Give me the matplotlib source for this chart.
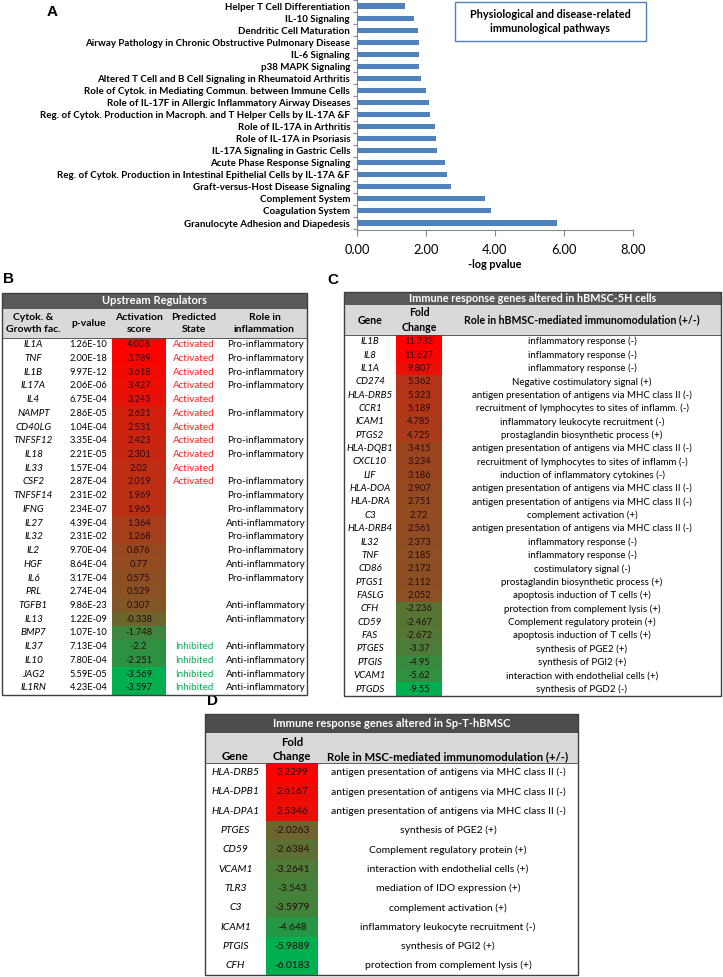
import matplotlib
matplotlib.use('Agg')
import matplotlib.pyplot as plt
from matplotlib.patches import Rectangle
from matplotlib.colors import LinearSegmentedColormap, Normalize
from matplotlib.ticker import FormatStrFormatter, FixedLocator

plt.rcParams['font.family'] = ['Lato', 'DejaVu Sans']

# ---------------- Panel A data (top to bottom) ----------------
pathways = [
    "Helper T Cell Differentiation",
    "IL-10 Signaling",
    "Dendritic Cell Maturation",
    "Airway Pathology in Chronic Obstructive Pulmonary Disease",
    "IL-6 Signaling",
    "p38 MAPK Signaling",
    "Altered T Cell and B Cell Signaling in Rheumatoid Arthritis",
    "Role of Cytok. in Mediating Commun. between Immune Cells",
    "Role of IL-17F in Allergic Inflammatory Airway Diseases",
    "Reg. of Cytok. Production in Macroph. and T Helper Cells by IL-17A &F",
    "Role of IL-17A in Arthritis",
    "Role of IL-17A in Psoriasis",
    "IL-17A Signaling in Gastric Cells",
    "Acute Phase Response Signaling",
    "Reg. of Cytok. Production in Intestinal Epithelial Cells by IL-17A &F",
    "Graft-versus-Host Disease Signaling",
    "Complement System",
    "Coagulation System",
    "Granulocyte Adhesion and Diapedesis",
]
neglogp = [1.40, 1.65, 1.77, 1.80, 1.81, 1.81, 1.86, 2.01, 2.09, 2.11,
           2.25, 2.29, 2.32, 2.56, 2.60, 2.72, 3.72, 3.87, 5.79]
xticks_a = [0, 2, 4, 6, 8]

# ---------------- Panel B data ----------------
b_genes = ["IL1A", "TNF", "IL1B", "IL17A", "IL4", "NAMPT", "CD40LG", "TNFSF12",
           "IL18", "IL33", "CSF2", "TNFSF14", "IFNG", "IL27", "IL32", "IL2",
           "HGF", "IL6", "PRL", "TGFB1", "IL13", "BMP7", "IL37", "IL10", "JAG2", "IL1RN"]
b_pvalues = ["1.26E-10", "2.00E-18", "9.97E-12", "2.06E-06", "6.75E-04", "2.86E-05",
             "1.04E-04", "3.35E-04", "2.21E-05", "1.57E-04", "2.87E-04", "2.31E-02",
             "2.34E-07", "4.39E-04", "2.31E-02", "9.70E-04", "8.64E-04", "3.17E-04",
             "2.74E-04", "9.86E-23", "1.22E-09", "1.07E-10", "7.13E-04", "7.80E-04",
             "5.59E-05", "4.23E-04"]
b_scores = [4.008, 3.789, 3.618, 3.427, 3.243, 2.621, 2.531, 2.423, 2.301, 2.02,
            2.019, 1.969, 1.965, 1.364, 1.268, 0.876, 0.77, 0.575, 0.529, 0.307,
            -0.338, -1.748, -2.2, -2.251, -3.569, -3.597]
b_score_labels = ["4.008", "3.789", "3.618", "3.427", "3.243", "2.621", "2.531", "2.423",
                  "2.301", "2.02", "2.019", "1.969", "1.965", "1.364", "1.268", "0.876",
                  "0.77", "0.575", "0.529", "0.307", "-0.338", "-1.748", "-2.2", "-2.251",
                  "-3.569", "-3.597"]
b_states = ["Activated"] * 11 + [""] * 11 + ["Inhibited"] * 4
b_roles = ["Pro-inflammatory", "Pro-inflammatory", "Pro-inflammatory", "Pro-inflammatory", "",
           "Pro-inflammatory", "", "Pro-inflammatory", "Pro-inflammatory", "",
           "Pro-inflammatory", "Pro-inflammatory", "Pro-inflammatory", "Anti-inflammatory",
           "Pro-inflammatory", "Pro-inflammatory", "Anti-inflammatory", "Pro-inflammatory", "",
           "Anti-inflammatory", "Anti-inflammatory", "", "Anti-inflammatory",
           "Anti-inflammatory", "Anti-inflammatory", "Anti-inflammatory"]
b_headers = ["Cytok. &\nGrowth fac.", "p-value", "Activation\nscore", "Predicted\nState", "Role in\ninflammation"]

# ---------------- Panel C data ----------------
c_genes = ["IL1B", "IL8", "IL1A", "CD274", "HLA-DRB5", "CCR1", "ICAM1", "PTGS2", "HLA-DQB1",
           "CXCL10", "LIF", "HLA-DOA", "HLA-DRA", "C3", "HLA-DRB4", "IL32", "TNF", "CD86",
           "PTGS1", "FASLG", "CFH", "CD59", "FAS", "PTGES", "PTGIS", "VCAM1", "PTGDS"]
c_fold = [11.733, 11.627, 9.807, 5.362, 5.323, 5.189, 4.785, 4.725, 3.415, 3.234, 3.186,
          2.907, 2.751, 2.72, 2.561, 2.373, 2.185, 2.172, 2.112, 2.052, -2.236, -2.467,
          -2.672, -3.37, -4.95, -5.62, -9.55]
c_fold_labels = ["11.733", "11.627", "9.807", "5.362", "5.323", "5.189", "4.785", "4.725",
                 "3.415", "3.234", "3.186", "2.907", "2.751", "2.72", "2.561", "2.373",
                 "2.185", "2.172", "2.112", "2.052", "-2.236", "-2.467", "-2.672", "-3.37",
                 "-4.95", "-5.62", "-9.55"]
c_roles = ["inflammatory response (-)", "inflammatory response (-)", "inflammatory response (-)",
           "Negative costimulatory signal (+)",
           "antigen presentation of antigens via MHC class II (-)",
           "recruitment of lymphocytes to sites of inflamm. (-)",
           "inflammatory leukocyte recruitment (-)",
           "prostaglandin biosynthetic process (+)",
           "antigen presentation of antigens via MHC class II (-)",
           "recruitment of lymphocytes to sites of inflamm (-)",
           "induction of inflammatory cytokines (-)",
           "antigen presentation of antigens via MHC class II (-)",
           "antigen presentation of antigens via MHC class II (-)",
           "complement activation (+)",
           "antigen presentation of antigens via MHC class II (-)",
           "inflammatory response (-)", "inflammatory response (-)",
           "costimulatory signal (-)", "prostaglandin biosynthetic process (+)",
           "apoptosis induction of T cells (+)", "protection from complement lysis (+)",
           "Complement regulatory protein (+)", "apoptosis induction of T cells (+)",
           "synthesis of PGE2 (+)", "synthesis of PGI2 (+)",
           "interaction with endothelial cells (+)", "synthesis of PGD2 (-)"]

# ---------------- Panel D data ----------------
d_genes = ["HLA-DRB5", "HLA-DPB1", "HLA-DPA1", "PTGES", "CD59", "VCAM1", "TLR3", "C3",
           "ICAM1", "PTGIS", "CFH"]
d_fold = [3.2299, 2.6167, 2.5346, -2.0263, -2.6384, -3.2641, -3.543, -3.5979, -4.648,
          -5.9889, -6.0183]
d_fold_labels = ["3.2299", "2.6167", "2.5346", "-2.0263", "-2.6384", "-3.2641", "-3.543",
                 "-3.5979", "-4.648", "-5.9889", "-6.0183"]
d_roles = ["antigen presentation of antigens via MHC class II (-)",
           "antigen presentation of antigens via MHC class II (-)",
           "antigen presentation of antigens via MHC class II (-)",
           "synthesis of PGE2 (+)", "Complement regulatory protein (+)",
           "interaction with endothelial cells (+)", "mediation of IDO expression (+)",
           "complement activation (+)", "inflammatory leukocyte recruitment (-)",
           "synthesis of PGI2 (+)", "protection from complement lysis (+)"]

# ---------------- Figure ----------------
W, H = 723, 977
fig = plt.figure(figsize=(W / 100, H / 100), dpi=100)
fig.patch.set_facecolor('white')

# Panel A bar chart
ax_left, ax_right, ax_top, ax_bot = 357, 633, 0, 230
ax = fig.add_axes([ax_left / W, 1 - ax_bot / H, (ax_right - ax_left) / W, (ax_bot - ax_top) / H])
n = len(pathways)
ypos = [n - 1 - i for i in range(n)]
ax.barh(ypos, neglogp, height=0.42, color='#4f81bd', zorder=3)
ax.set_xlim(0, 8)
ax.set_ylim(-0.58, n - 0.5)
ax.set_yticks(ypos)
ax.set_yticklabels(pathways, fontsize=7.0, fontweight='bold')
ax.tick_params(axis='y', length=0, pad=5)
ax.yaxis.set_minor_locator(FixedLocator([k - 0.5 for k in range(n + 1)]))
ax.tick_params(axis='y', which='minor', length=3, color='#868686', width=0.8)
ax.set_xticks(xticks_a)
ax.xaxis.set_major_formatter(FormatStrFormatter('%.2f'))
ax.tick_params(axis='x', length=4, color='#868686', width=0.8, labelsize=9.3, pad=6)
ax.set_xlabel('-log pvalue', fontsize=7.8, fontweight='bold', labelpad=2)
for s in ['top', 'right']:
    ax.spines[s].set_visible(False)
for s in ['left', 'bottom']:
    ax.spines[s].set_color('#868686')
    ax.spines[s].set_linewidth(0.8)
ax.set_facecolor('none')

# Overlay in pixel coordinates
ov = fig.add_axes([0, 0, 1, 1])
ov.set_xlim(0, W)
ov.set_ylim(H, 0)
ov.axis('off')

def rect(x0, y0, x1, y1, fc, ec='none', lw=0, z=1):
    ov.add_patch(Rectangle((x0, y0), x1 - x0, y1 - y0, facecolor=fc, edgecolor=ec,
                           linewidth=lw, zorder=z))

def txt(x, y, s, size, **kw):
    kw.setdefault('ha', 'center')
    kw.setdefault('va', 'center')
    ov.text(x, y, s, fontsize=size, **kw)

cmap = LinearSegmentedColormap.from_list('gr', ['#00b050', '#ff0000'])
DARK = '#595959'
LIGHT = '#d9d9d9'
EDGE = '#404040'
TXT_FILL = '#2a0a0a'
LBL = ['Liberation Sans', 'DejaVu Sans']

# Legend box of panel A
rect(455, 2, 646, 41, 'white', ec='#4f81bd', lw=1.0, z=2)
txt(550.5, 21.5, "Physiological and disease-related\nimmunological pathways", 7.8,
    fontweight='bold', linespacing=1.25, zorder=3)
txt(52, 12, "A", 11, fontweight='bold', family=LBL)

# Panel labels
txt(8, 279, "B", 11, fontweight='bold', family=LBL)
txt(333, 280, "C", 11, fontweight='bold', family=LBL)
txt(212, 701, "D", 11, fontweight='bold', family=LBL)

# ---------------- Table B ----------------
bx = [2, 65, 112, 166, 222, 307]
b_top, b_title_bot, b_head_bot = 293, 309, 337.8
b_rh = 13.73
b_bot = b_head_bot + len(b_genes) * b_rh
BFS = 7.1
rect(bx[0], b_top, bx[-1], b_title_bot, DARK)
rect(bx[0], b_title_bot, bx[-1], b_head_bot, LIGHT)
txt((bx[0] + bx[-1]) / 2, (b_top + b_title_bot) / 2, "Upstream Regulators", 8.0,
    fontweight='bold', color='white')
for j, h in enumerate(b_headers):
    cx = (bx[j] + bx[j + 1]) / 2
    txt(cx, (b_title_bot + b_head_bot) / 2 + 0.5, h, 7.5, fontweight='bold', linespacing=1.4)
normB = Normalize(vmin=min(b_scores), vmax=max(b_scores))
for i in range(len(b_genes)):
    y0 = b_head_bot + i * b_rh
    yc = y0 + b_rh / 2
    rect(bx[2], y0, bx[3], y0 + b_rh, cmap(normB(b_scores[i])))
    txt((bx[0] + bx[1]) / 2, yc, b_genes[i], BFS, style='italic')
    txt((bx[1] + bx[2]) / 2, yc, b_pvalues[i], 6.7)
    txt((bx[2] + bx[3]) / 2, yc, b_score_labels[i], 6.7, color=TXT_FILL)
    if b_states[i]:
        col = '#ff2020' if b_states[i] == 'Activated' else '#00b050'
        txt((bx[3] + bx[4]) / 2, yc, b_states[i], BFS, color=col)
    if b_roles[i]:
        txt((bx[4] + bx[5]) / 2 + 1, yc, b_roles[i], BFS)
ov.plot([bx[0], bx[-1]], [b_head_bot, b_head_bot], color=EDGE, lw=0.6)
rect(bx[0], b_top, bx[-1], b_bot, 'none', ec=EDGE, lw=1.0, z=4)

# ---------------- Table C ----------------
cx_ = [344, 396, 442, 721]
c_top, c_title_bot, c_head_bot = 292, 305, 335
c_rh = 13.36
c_bot = c_head_bot + len(c_genes) * c_rh
CFS = 7.0
rcx = 582
rect(cx_[0], c_top, cx_[-1], c_title_bot, DARK)
rect(cx_[0], c_title_bot, cx_[-1], c_head_bot, LIGHT)
txt((cx_[0] + cx_[-1]) / 2, (c_top + c_title_bot) / 2,
    "Immune response genes altered in hBMSC-5H cells", 7.8, fontweight='bold', color='white')
hc = (c_title_bot + c_head_bot) / 2
txt((cx_[0] + cx_[1]) / 2, hc, "Gene", 7.6, fontweight='bold')
txt((cx_[1] + cx_[2]) / 2, hc, "Fold\nChange", 7.6, fontweight='bold', linespacing=1.35)
txt(rcx, hc, "Role in hBMSC-mediated immunomodulation (+/-)", 7.6, fontweight='bold')
normC = Normalize(vmin=min(c_fold), vmax=max(c_fold))
for i in range(len(c_genes)):
    y0 = c_head_bot + i * c_rh
    yc = y0 + c_rh / 2
    rect(cx_[1], y0, cx_[2], y0 + c_rh, cmap(normC(c_fold[i])))
    txt((cx_[0] + cx_[1]) / 2, yc, c_genes[i], CFS, style='italic')
    txt((cx_[1] + cx_[2]) / 2, yc, c_fold_labels[i], 6.7, color=TXT_FILL)
    txt(rcx, yc, c_roles[i], CFS)
ov.plot([cx_[0], cx_[-1]], [c_head_bot, c_head_bot], color=EDGE, lw=0.6)
rect(cx_[0], c_top, cx_[-1], c_bot, 'none', ec=EDGE, lw=1.0, z=4)

# ---------------- Table D ----------------
dx = [205, 266, 318, 578]
d_top, d_title_bot, d_head_bot = 714, 733, 763
d_rh = 19.3
d_bot = d_head_bot + len(d_genes) * d_rh
DFS = 7.5
rdx = 448
rect(dx[0], d_top, dx[-1], d_title_bot, '#4d4d4d')
rect(dx[0], d_title_bot, dx[-1], d_head_bot, LIGHT)
txt((dx[0] + dx[-1]) / 2, (d_top + d_title_bot) / 2,
    "Immune response genes altered in Sp-T-hBMSC", 8.0, fontweight='bold', color='white')
txt((dx[0] + dx[1]) / 2, 757, "Gene", 8.2, fontweight='bold')
txt((dx[1] + dx[2]) / 2, 742, "Fold", 8.2, fontweight='bold')
txt((dx[1] + dx[2]) / 2, 757, "Change", 8.2, fontweight='bold')
txt(rdx, 757, "Role in MSC-mediated immunomodulation (+/-)", 8.2, fontweight='bold')
normD = Normalize(vmin=min(d_fold), vmax=max(d_fold))
for i in range(len(d_genes)):
    y0 = d_head_bot + i * d_rh
    yc = y0 + d_rh / 2
    rect(dx[1], y0, dx[2], y0 + d_rh, cmap(normD(d_fold[i])))
    txt((dx[0] + dx[1]) / 2, yc, d_genes[i], DFS, style='italic')
    txt((dx[1] + dx[2]) / 2, yc, d_fold_labels[i], 7.3, color=TXT_FILL)
    txt(rdx, yc, d_roles[i], DFS)
ov.plot([dx[0], dx[-1]], [d_head_bot, d_head_bot], color=EDGE, lw=0.6)
rect(dx[0], d_top, dx[-1], d_bot, 'none', ec=EDGE, lw=1.0, z=4)

fig.savefig('out.png', dpi=100, facecolor='white')
